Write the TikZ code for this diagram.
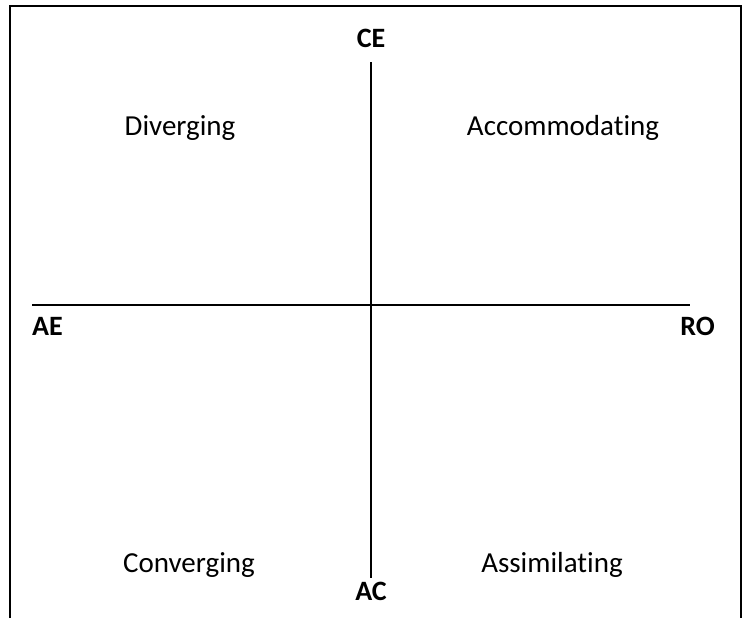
\documentclass[tikz,border=0pt]{standalone}
\usepackage{fontspec}
\setmainfont{Carlito}[Ligatures=NoCommon]
\usetikzlibrary{positioning}

\begin{document}
\begin{tikzpicture}[x=1pt, y=-1pt,
    axis/.style={line width=1.6pt},
    style_name/.style={font=\fontsize{29}{34}\selectfont, anchor=center},
    pole_name/.style={font=\fontsize{28}{34}\selectfont\bfseries, inner sep=0pt}]

    \useasboundingbox (0,0) rectangle (746,618);

    % --- Begin Frame ---
    \draw[line width=1.3pt] (10,618) -- (10,6) -- (741,6) -- (741,618);
    % --- End Frame ---

    % Ends of the two axes.
    \coordinate (ae_end) at (32,305);
    \coordinate (ro_end) at (690,305);
    \coordinate (ce_end) at (371,62);
    \coordinate (ac_end) at (371,578);

    % Connect the axes.
    \draw[axis] (ae_end) -- (ro_end);
    \draw[axis] (ce_end) -- (ac_end);

    % --- Begin Pole Labels ---
    \node [pole_name, above=14pt of ce_end] (CE) {CE};
    \node [pole_name, below right=12pt and 0pt of ae_end] (AE) {AE};
    \node [pole_name, below left=12pt and -25pt of ro_end] (RO) {RO};
    \node [pole_name, below=4pt of ac_end] (AC) {AC};
    % --- End Pole Labels ---

    % --- Begin Style Labels ---
    \node [style_name] (Diverging) at (180,128) {Diverging};
    \node [style_name] (Accommodating) at (563,128) {Accommodating};
    \node [style_name] (Converging) at (189,565) {Converging};
    \node [style_name] (Assimilating) at (552,565) {Assimilating};
    % --- End Style Labels ---

\end{tikzpicture}
\end{document}
